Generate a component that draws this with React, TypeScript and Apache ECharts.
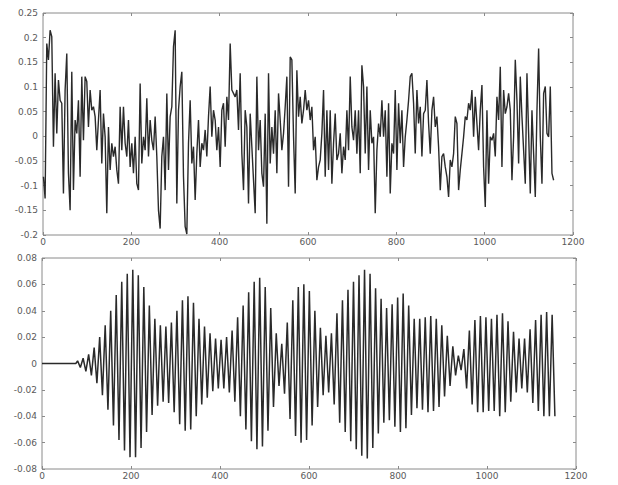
import React, { useEffect, useRef } from 'react';
import * as echarts from 'echarts';

// x axis (sample index)
const xMin = 0;
const xMax = 1200;
const xInterval = 200;

// top panel: noisy signal, uniformly spaced samples
const topYMin = -0.2;
const topYMax = 0.25;
const topYInterval = 0.05;
const topStart = 1;
const topStep = 3.775;
const topValues = [
  -0.082, -0.126, 0.188, 0.155, 0.215, 0.202, -0.021, 0.128, 0.006, 0.114,
  0.073, 0.067, -0.116, 0.094, 0.168, -0.075, -0.150, 0.131, -0.109, 0.033,
  0.006, 0.073, -0.082, 0.121, -0.008, 0.121, 0.111, 0.019, 0.094, 0.053,
  0.060, 0.040, -0.028, 0.033, 0.094, -0.055, 0.046, -0.001, -0.156, 0.019,
  -0.068, -0.014, -0.041, -0.021, -0.068, -0.096, 0.060, -0.028, 0.060, -0.014,
  -0.041, 0.033, -0.062, -0.014, -0.075, -0.001, -0.096, -0.109, 0.107, -0.055,
  -0.001, -0.028, 0.077, -0.041, 0.033, -0.008, -0.028, 0.040, -0.041, -0.150,
  -0.187, -0.041, -0.001, -0.109, 0.087, -0.068, 0.040, 0.060, 0.182, 0.215,
  -0.136, 0.053, 0.101, 0.131, -0.082, -0.183, -0.198, -0.014, 0.073, -0.055,
  -0.021, -0.129, -0.035, 0.033, -0.062, -0.014, -0.028, 0.013, -0.041, 0.040,
  0.101, -0.001, 0.053, 0.033, -0.028, 0.019, -0.062, 0.053, 0.067, -0.021,
  0.080, 0.033, 0.188, 0.094, 0.087, 0.080, 0.094, 0.013, 0.128, -0.035,
  -0.109, 0.053, 0.019, -0.136, 0.046, -0.021, -0.089, -0.156, 0.121, -0.028,
  0.033, -0.075, -0.102, 0.046, -0.177, 0.128, -0.055, 0.019, -0.035, 0.053,
  -0.075, 0.087, 0.033, -0.028, 0.006, 0.060, 0.121, -0.102, 0.161, 0.155,
  -0.001, -0.116, 0.134, 0.040, 0.080, 0.026, 0.053, 0.094,
  0.053, 0.073, 0.033, 0.060, -0.028, -0.001, -0.089, -0.062, -0.048, 0.006,
  0.094, -0.082, 0.053, -0.068, 0.053, -0.096, -0.014, 0.046, -0.048, -0.035,
  0.006, -0.075, -0.021, -0.048, 0.053, -0.028, 0.121, 0.019, -0.008, 0.053,
  -0.035, 0.053, -0.075, 0.144, 0.101, -0.035, 0.101, -0.068, 0.053, -0.014,
  -0.001, -0.156, -0.028, 0.026, -0.001, 0.073, -0.001, 0.053, -0.082, 0.067,
  -0.116, -0.014, -0.035, 0.094, -0.068, 0.067, -0.014, 0.053, -0.062, -0.001,
  0.033, 0.073, 0.121, 0.128, 0.067, -0.035, 0.094, 0.026, 0.060, -0.041,
  0.046, 0.053, 0.114, 0.026, -0.035, 0.053, 0.080, 0.019,
  0.040, -0.021, -0.109, -0.041, -0.035, -0.062, -0.082, -0.123, -0.048, -0.062,
  -0.035, 0.040, 0.026, -0.109, -0.068, -0.035, -0.001, 0.040, 0.033, 0.067,
  0.053, 0.094, -0.001, 0.080, 0.026, -0.028, 0.053, 0.104, -0.062, -0.143,
  0.053, -0.096, -0.001, -0.008, 0.006, -0.041, 0.080, 0.033, 0.141, -0.062,
  0.094, 0.046, 0.060, 0.087, 0.053, -0.089, -0.001, 0.155, 0.073, -0.055,
  0.121, 0.040, -0.028, -0.096, 0.128, 0.006, -0.116, 0.053, -0.035, -0.123,
  0.053, 0.178, -0.001, -0.096, 0.087, 0.101, 0.006, -0.001, 0.101, -0.075,
  -0.089,
];

// bottom panel: flat lead-in, then oscillation peaks/troughs
const botYMin = -0.08;
const botYMax = 0.08;
const botYInterval = 0.02;
const botLeadX = [0, 76];
const botLeadValues = [0, 0];
const botStart = 80;
const botStep = 6.2;
const botValues = [
  0.002, -0.003, 0.004, -0.006, 0.007, -0.009, 0.012, -0.015, 0.020, -0.024,
  0.029, -0.035, 0.040, -0.047, 0.052, -0.058, 0.062, -0.066, 0.068, -0.071,
  0.071, -0.071, 0.067, -0.064, 0.058, -0.052, 0.044, -0.039, 0.034, -0.032,
  0.029, -0.029, 0.028, -0.030, 0.031, -0.037, 0.040, -0.046, 0.048, -0.051,
  0.051, -0.050, 0.046, -0.040, 0.034, -0.031, 0.028, -0.026, 0.023, -0.021,
  0.019, -0.019, 0.018, -0.019, 0.020, -0.022, 0.025, -0.029, 0.035, -0.040,
  0.044, -0.050, 0.054, -0.059, 0.062, -0.065, 0.065, -0.063, 0.058, -0.051,
  0.042, -0.033, 0.023, -0.017, 0.015, -0.023, 0.031, -0.042, 0.048, -0.055,
  0.058, -0.060, 0.060, -0.058, 0.055, -0.047, 0.040, -0.033, 0.027, -0.024,
  0.021, -0.022, 0.023, -0.031, 0.038, -0.045, 0.048, -0.052, 0.056, -0.059,
  0.062, -0.065, 0.067, -0.070, 0.071, -0.072, 0.068, -0.064, 0.057, -0.053,
  0.049, -0.045, 0.042, -0.043, 0.045, -0.048, 0.050, -0.052, 0.053, -0.049,
  0.044, -0.039, 0.034, -0.034, 0.034, -0.035, 0.035, -0.037, 0.036, -0.036,
  0.034, -0.033, 0.029, -0.025, 0.021, -0.017, 0.013, -0.009, 0.006, -0.005,
  0.011, -0.019, 0.025, -0.031, 0.033, -0.037, 0.036, -0.037, 0.035, -0.036,
  0.034, -0.036, 0.037, -0.040, 0.038, -0.037, 0.032, -0.029, 0.024, -0.022,
  0.019, -0.019, 0.019, -0.022, 0.026, -0.030, 0.033, -0.036, 0.037, -0.040,
  0.039, -0.040, 0.037, -0.040,
];

const frameColor = '#8a8a8a';
const lineColor = '#2a2a2a';
const labelStyle = {
  fontFamily: 'DejaVu Sans',
  fontSize: 9,
  color: '#5a5a5a',
};

function makeAxes(gridIndex: number, yMin: number, yMax: number, yInt: number, yMargin: number, xMargin: number) {
  const tick = { inside: true, length: 3, lineStyle: { color: frameColor, width: 1 } };
  const hiddenLine = { show: false, onZero: false };
  const xBase = {
    type: 'value' as const,
    gridIndex,
    min: xMin,
    max: xMax,
    interval: xInterval,
    splitLine: { show: false },
    axisLine: hiddenLine,
    axisTick: tick,
  };
  const yBase = {
    type: 'value' as const,
    gridIndex,
    min: yMin,
    max: yMax,
    interval: yInt,
    splitLine: { show: false },
    axisLine: hiddenLine,
    axisTick: tick,
  };
  return {
    x: [
      {
        ...xBase,
        position: 'bottom',
        axisLabel: {
          ...labelStyle,
          margin: xMargin,
          showMinLabel: true,
          showMaxLabel: true,
          formatter: (v: number) => String(v),
        },
      },
      { ...xBase, position: 'top', axisLabel: { show: false } },
    ],
    y: [
      { ...yBase, position: 'left', axisLabel: { ...labelStyle, margin: yMargin, showMinLabel: true, showMaxLabel: true } },
      { ...yBase, position: 'right', axisLabel: { show: false } },
    ],
  };
}

export default function App() {
  const ref = useRef<HTMLDivElement>(null);

  useEffect(() => {
    if (!ref.current) return;
    const chart = echarts.init(ref.current, undefined, { renderer: 'svg' });

    const topData = topValues.map((v, i) => [topStart + i * topStep, v]);
    const botData = [
      ...botLeadX.map((x, i) => [x, botLeadValues[i]]),
      ...botValues.map((v, i) => [botStart + i * botStep, v]),
    ];

    const a0 = makeAxes(0, topYMin, topYMax, topYInterval, 5, 2);
    const a1 = makeAxes(1, botYMin, botYMax, botYInterval, 5, 2);

    chart.setOption({
      animation: false,
      backgroundColor: '#ffffff',
      grid: [
        { left: 43, top: 13, width: 530, height: 222, show: true, borderColor: frameColor, borderWidth: 1, backgroundColor: 'transparent' },
        { left: 42, top: 258, width: 534, height: 211, show: true, borderColor: frameColor, borderWidth: 1, backgroundColor: 'transparent' },
      ],
      xAxis: [...a0.x, ...a1.x],
      yAxis: [...a0.y, ...a1.y],
      series: [
        {
          type: 'line',
          xAxisIndex: 0,
          yAxisIndex: 0,
          data: topData,
          showSymbol: false,
          symbol: 'none',
          lineStyle: { color: lineColor, width: 1.4 },
        },
        {
          type: 'line',
          xAxisIndex: 2,
          yAxisIndex: 2,
          data: botData,
          showSymbol: false,
          symbol: 'none',
          lineStyle: { color: lineColor, width: 1.5 },
        },
      ],
    });

    return () => chart.dispose();
  }, []);

  return (
    <div
      ref={ref}
      style={{ position: 'fixed', left: 0, top: 0, width: 618, height: 485, background: '#fff' }}
    />
  );
}
